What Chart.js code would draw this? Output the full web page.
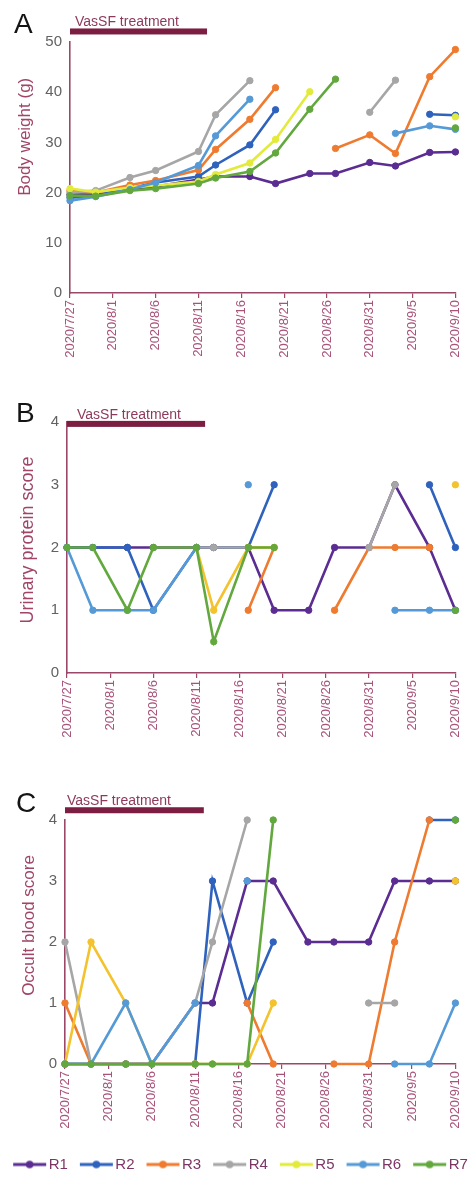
<!DOCTYPE html>
<html>
<head>
<meta charset="utf-8">
<script src="https://cdn.jsdelivr.net/npm/chart.js@4/dist/chart.umd.min.js"></script>
<style>
html,body{margin:0;padding:0;background:#fff;width:473px;height:1182px;overflow:hidden;}
.wrap{position:absolute;left:0;width:473px;}
.letter{position:absolute;font-family:"Liberation Sans",Arial,sans-serif;font-size:28px;line-height:28px;color:#141414;}
</style>
</head>
<body>
<div class="wrap" style="top:0;height:380px"><canvas id="cA" width="473" height="380"></canvas></div>
<div class="wrap" style="top:380px;height:390px"><canvas id="cB" width="473" height="390"></canvas></div>
<div class="wrap" style="top:770px;height:412px"><canvas id="cC" width="473" height="412"></canvas></div>
<div class="letter" style="left:14px;top:10px">A</div>
<div class="letter" style="left:16px;top:399px">B</div>
<div class="letter" style="left:16px;top:789px">C</div>
<script>
// ---------- data ----------
const dates = ['2020/7/27','2020/7/30','2020/8/3','2020/8/6','2020/8/11','2020/8/13','2020/8/17','2020/8/20','2020/8/24','2020/8/27','2020/8/31','2020/9/3','2020/9/7','2020/9/10'];
const xTickLabels = ['2020/7/27','2020/8/1','2020/8/6','2020/8/11','2020/8/16','2020/8/21','2020/8/26','2020/8/31','2020/9/5','2020/9/10'];
const seriesNames = ['R1','R2','R3','R4','R5','R6','R7'];
const treatmentPeriod = ['2020/7/27','2020/8/12'];
const treatmentLabel = 'VasSF treatment';

const weightTicks = [0,10,20,30,40,50];
const scoreTicks = [0,1,2,3,4];

// A: body weight (g)
const weightR1 = [19.6,19.6,20.6,21.2,22.6,23.2,23.2,21.8,23.8,23.8,26.0,25.3,28.0,28.1];
const weightR2 = [19.0,19.4,20.8,22.0,23.2,25.5,29.5,36.5,null,null,null,null,35.6,35.4];
const weightR3 = [20.4,20.0,21.5,22.4,24.5,28.6,34.6,40.9,null,28.8,31.5,27.8,43.1,48.5];
const weightR4 = [20.0,20.4,23.0,24.4,28.2,35.5,42.3,null,null,null,36.0,42.4,null,null];
const weightR5 = [20.8,20.1,21.0,21.4,22.2,23.6,25.9,30.6,40.1,null,null,null,null,35.1];
const weightR6 = [18.4,19.2,20.6,22.0,25.4,31.3,38.6,null,null,null,null,31.8,33.3,32.6];
const weightR7 = [19.4,19.3,20.4,20.8,21.8,22.9,24.2,27.9,36.6,42.6,null,null,null,32.9];

// B: urinary protein score
const proteinR1 = [2,2,2,2,2,2,2,1,1,2,2,3,2,1];
const proteinR2 = [2,2,2,1,2,2,2,3,null,null,null,null,3,2];
const proteinR3 = [null,null,null,null,null,null,1,2,null,1,2,2,2,null];
const proteinR4 = [null,null,null,null,2,2,2,null,null,null,2,3,null,null];
const proteinR5 = [null,null,null,null,2,1,2,2,null,null,null,null,null,3];
const proteinR6 = [2,1,1,1,2,null,3,null,null,null,null,1,1,1];
const proteinR7 = [2,2,1,2,2,0.5,2,2,null,null,null,null,null,1];

// C: occult blood score
const bloodR1 = [0,0,0,0,1,1,3,3,2,2,2,3,3,3];
const bloodR2 = [0,0,0,0,0,3,1,2,null,null,null,null,4,4];
const bloodR3 = [1,0,0,0,0,null,1,0,null,0,0,2,4,null];
const bloodR4 = [2,0,0,0,1,2,4,null,null,null,1,1,null,null];
const bloodR5 = [0,2,1,0,0,0,0,1,null,null,null,null,null,3];
const bloodR6 = [0,0,1,0,1,null,3,null,null,null,null,0,0,1];
const bloodR7 = [0,0,0,0,0,0,0,4,null,null,null,null,null,4];

// ---------- styling ----------
const seriesColors = ['#5b2c91','#2f62bd','#ee7b30','#a6a6a6','#e2ea3c','#559ad6','#62a83e'];
const scoreYellow = '#f3c22c';
const axisColor = '#9b4868';
const tickLabelColor = '#a8537a';
const titleColor = '#a04468';
const FONT = '"Liberation Sans", Arial, sans-serif';
Chart.defaults.font.family = FONT;

const DAY = 86400000;
function toUTC(s){ const p = s.split('/').map(Number); return Date.UTC(p[0], p[1]-1, p[2]); }
const origin = toUTC(dates[0]);
function dayOf(s){ return (toUTC(s) - origin) / DAY; }
const xDays = dates.map(dayOf);

const treatmentPlugin = {
  id: 'treatment',
  afterDraw(chart, args, opts) {
    const {ctx, scales} = chart;
    const x0 = scales.x.getPixelForValue(dayOf(treatmentPeriod[0]));
    const x1 = scales.x.getPixelForValue(dayOf(treatmentPeriod[1]));
    const yc = scales.y.getPixelForValue(opts.level);
    ctx.save();
    ctx.fillStyle = '#7b1e42';
    ctx.fillRect(x0, yc - 3, x1 - x0, 6);
    ctx.font = '14px ' + FONT;
    ctx.fillStyle = '#8c3a5c';
    ctx.textAlign = 'left';
    ctx.textBaseline = 'alphabetic';
    ctx.fillText(treatmentLabel, x0 + opts.textDx, yc - 5);
    ctx.restore();
  }
};

function legendIcon(color){
  const c = document.createElement('canvas');
  c.width = 48; c.height = 12;
  const g = c.getContext('2d');
  g.strokeStyle = color; g.lineWidth = 3;
  g.beginPath(); g.moveTo(14, 6); g.lineTo(47, 6); g.stroke();
  g.fillStyle = color;
  g.beginPath(); g.arc(30.5, 6, 3.8, 0, Math.PI * 2); g.fill();
  return c;
}

function makeChart(id, series, colors, cfg) {
  const datasets = seriesNames.map((name, i) => ({
    label: name,
    data: series[i],
    borderColor: colors[i],
    backgroundColor: colors[i],
    pointBackgroundColor: colors[i],
    pointBorderColor: colors[i],
    borderWidth: 2.6,
    pointRadius: 3.2,
    pointHoverRadius: 3.2,
    pointBorderWidth: 1,
    tension: 0,
    spanGaps: false,
    clip: false,
    order: seriesNames.length - 1 - i
  }));
  const yT = cfg.yTicks;
  const scales = {
    x: {
      type: 'linear',
      min: dayOf(xTickLabels[0]),
      max: dayOf(xTickLabels[xTickLabels.length - 1]),
      afterBuildTicks: s => { s.ticks = xTickLabels.map(l => ({value: dayOf(l)})); },
      ticks: {
        autoSkip: false, maxRotation: 90, minRotation: 90,
        color: tickLabelColor, font: {size: 13}, padding: 2,
        callback: (v, i) => xTickLabels[i]
      },
      grid: {drawOnChartArea: false, drawTicks: true, tickLength: 5, color: axisColor, lineWidth: 1.2},
      border: {display: true, color: axisColor, width: 1.6},
      afterFit: s => { s.height = cfg.xAxisH; }
    },
    y: {
      type: 'linear',
      min: yT[0], max: yT[yT.length - 1],
      afterBuildTicks: s => { s.ticks = yT.map(v => ({value: v})); },
      ticks: {color: '#626262', font: {size: 15}, padding: 8, callback: v => String(v)},
      grid: {display: false, drawTicks: false},
      border: {display: true, color: axisColor, width: 1.6},
      title: {display: true, text: ' '.repeat(cfg.titleShift) + cfg.title, color: titleColor, font: {size: cfg.titleSize}, padding: {top: cfg.titlePad, bottom: 0}},
      afterFit: s => { s.width = cfg.yAxisW; }
    }
  };
  if (cfg.rightSpace) {
    scales.yRight = {
      type: 'linear', position: 'right', display: true,
      min: 0, max: 1,
      ticks: {display: false}, grid: {display: false, drawTicks: false},
      border: {display: false}, title: {display: false},
      afterFit: s => { s.width = cfg.rightSpace; }
    };
  }
  const legendOpts = cfg.legend ? {
    display: true, position: 'bottom',
    labels: {
      usePointStyle: true, pointStyleWidth: 36, padding: 4,
      font: {size: 15}, color: '#7d3566',
      generateLabels: chart => chart.data.datasets.map((ds, i) => ({
        text: ds.label, fillStyle: seriesColors[i], strokeStyle: seriesColors[i],
        lineWidth: 0, pointStyle: legendIcon(seriesColors[i]),
        datasetIndex: i, hidden: false, fontColor: '#7d3566'
      }))
    }
  } : {display: false};
  return new Chart(document.getElementById(id), {
    type: 'line',
    data: {labels: xDays, datasets},
    options: {
      responsive: false, animation: false, events: [],
      layout: {padding: {top: cfg.padTop, right: cfg.padRight, left: 0, bottom: 0}},
      scales,
      plugins: {legend: legendOpts, tooltip: {enabled: false}, treatment: {level: cfg.barLevel, textDx: cfg.textDx}}
    },
    plugins: [treatmentPlugin]
  });
}

const colorsA = seriesColors.slice();
const colorsScore = seriesColors.map((c, i) => i === 4 ? scoreYellow : c);

makeChart('cA', [weightR1,weightR2,weightR3,weightR4,weightR5,weightR6,weightR7], colorsA, {
  yTicks: weightTicks, title: 'Body weight (g)', titleSize: 17, titleShift: 13, padTop: 42, padRight: 13, yAxisW: 70, xAxisH: 87,
  titlePad: 15, barLevel: 52.1, textDx: 5
});
makeChart('cB', [proteinR1,proteinR2,proteinR3,proteinR4,proteinR5,proteinR6,proteinR7], colorsScore, {
  yTicks: scoreTicks, title: 'Urinary protein score', titleSize: 18, titleShift: 3, padTop: 42, padRight: 16, yAxisW: 67, xAxisH: 97,
  titlePad: 17, barLevel: 3.97, textDx: 10
});
makeChart('cC', [bloodR1,bloodR2,bloodR3,bloodR4,bloodR5,bloodR6,bloodR7], colorsScore, {
  yTicks: scoreTicks, title: 'Occult blood score', titleSize: 17, titleShift: 7, padTop: 50, padRight: 0, rightSpace: 16, yAxisW: 65, xAxisH: 89,
  titlePad: 19, barLevel: 4.16, textDx: 2, legend: true
});
</script>
</body>
</html>
